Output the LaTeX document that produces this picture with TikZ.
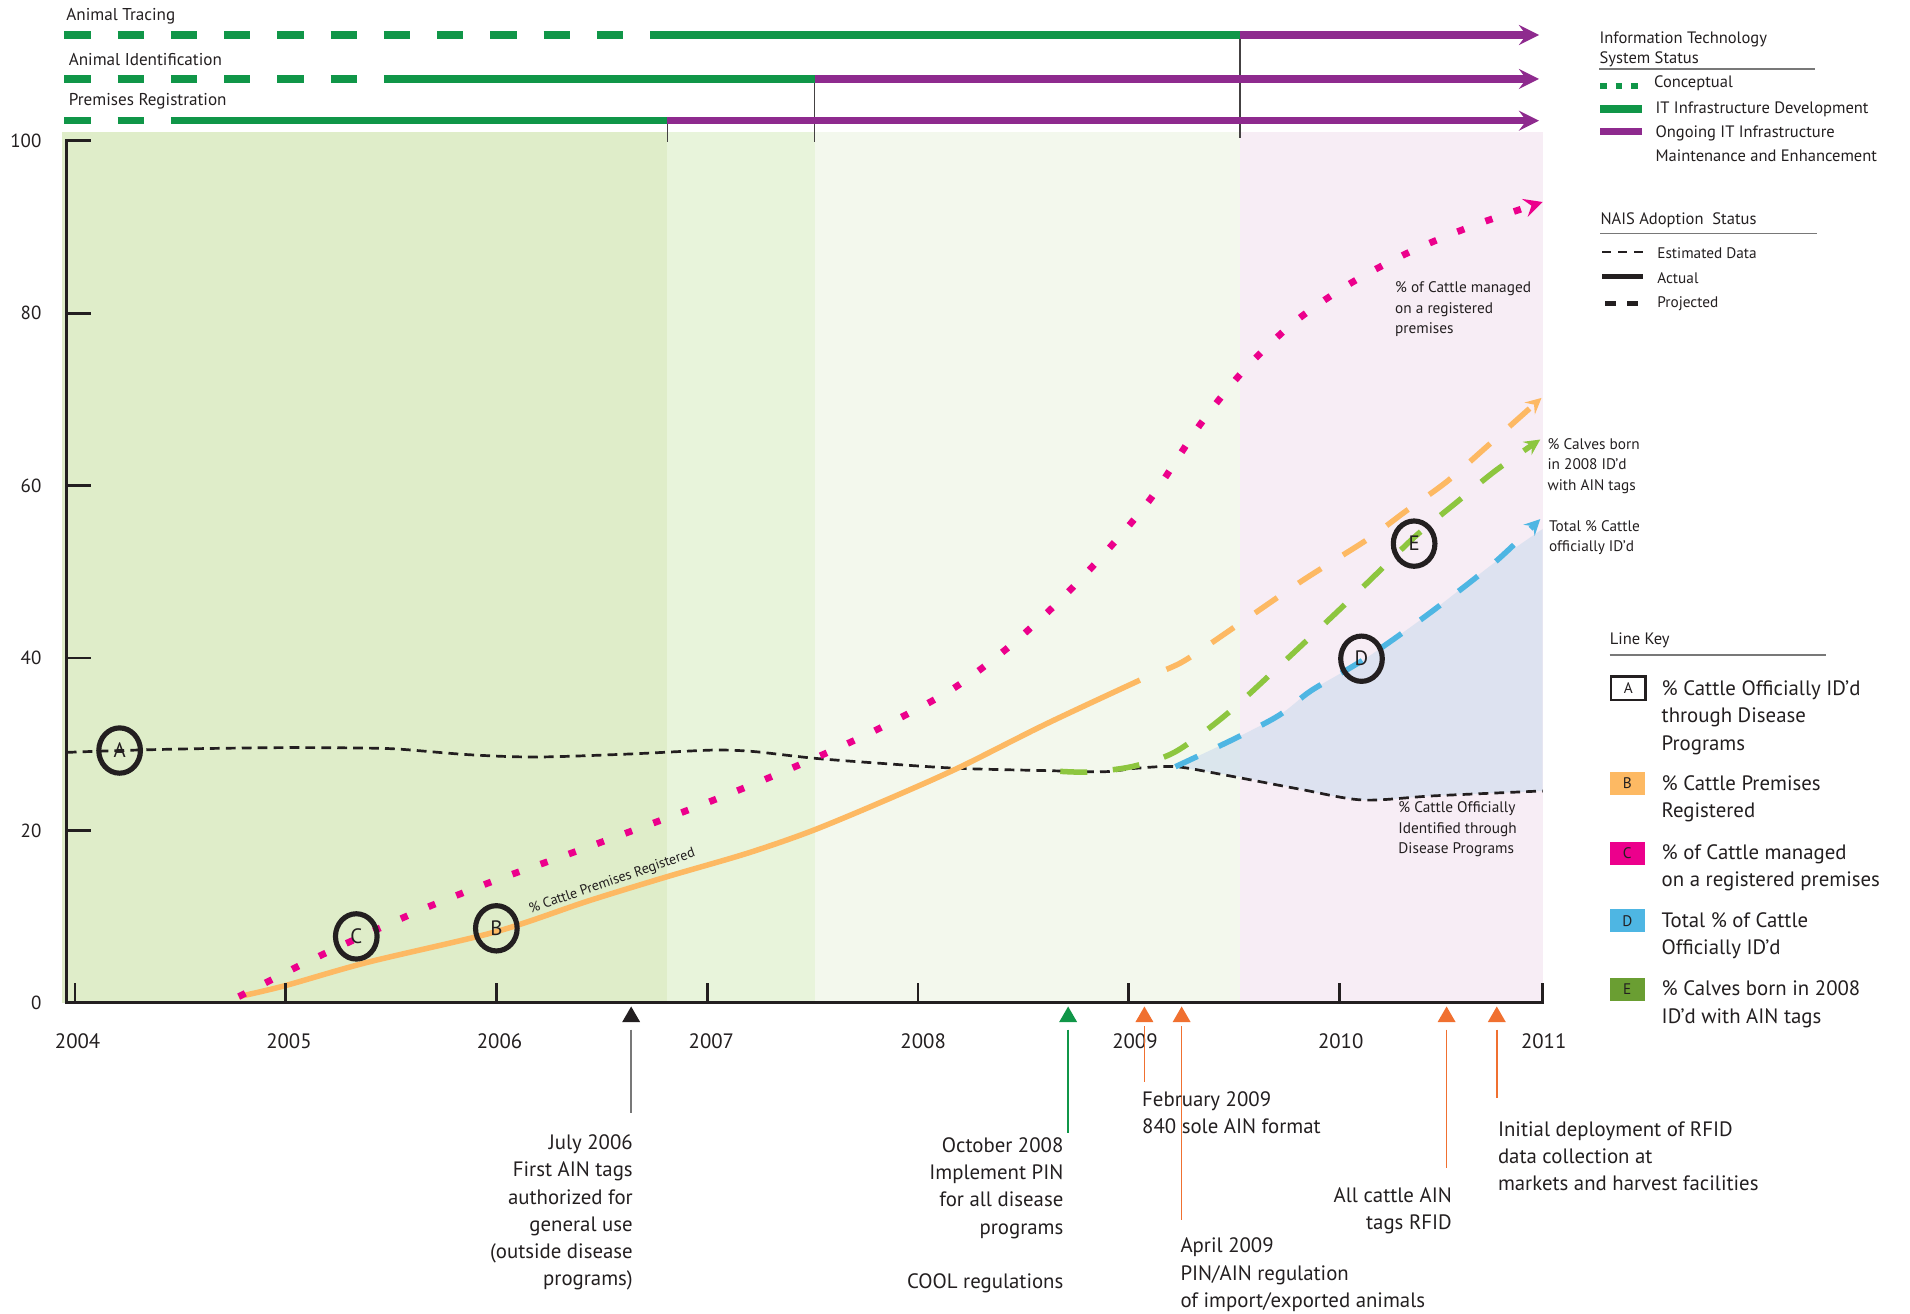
\documentclass[tikz,border=0pt]{standalone}
\usepackage{fontspec}
\setmainfont{PT Sans}
\usetikzlibrary{calc,positioning,arrows,shapes.geometric}

\definecolor{itgreen}{RGB}{16,150,72}
\definecolor{itpurple}{RGB}{142,42,142}
\definecolor{bgone}{RGB}{223,237,201}
\definecolor{bgtwo}{RGB}{232,244,219}
\definecolor{bgthree}{RGB}{243,248,237}
\definecolor{bgfour}{RGB}{247,237,245}
\definecolor{premorange}{RGB}{253,185,99}
\definecolor{mgdpink}{RGB}{236,0,140}
\definecolor{calfgreen}{RGB}{141,198,63}
\definecolor{totblue}{RGB}{78,182,227}
\definecolor{totfill}{RGB}{204,219,237}
\definecolor{keygreen}{RGB}{106,158,50}
\definecolor{evorange}{RGB}{240,112,48}
\definecolor{inkgray}{RGB}{35,31,32}
\definecolor{rulegray}{RGB}{120,120,120}

\newcommand{\fsize}[2]{\fontsize{#1}{#2}\selectfont}

\tikzstyle{axisline}   = [line width=2.3pt, inkgray]
\tikzstyle{barconcept} = [line width=6pt, itgreen, dash pattern=on 21.5pt off 22pt]
\tikzstyle{bardevel}   = [line width=6pt, itgreen]
\tikzstyle{barmaint}   = [line width=6pt, itpurple, ->, >=stealth]
\tikzstyle{phaseline}  = [line width=1.1pt, inkgray!85]
\tikzstyle{estline}    = [line width=2.2pt, inkgray, dash pattern=on 8pt off 5pt]
\tikzstyle{premline}   = [line width=4.5pt, premorange]
\tikzstyle{projline}   = [line width=4.5pt, dash pattern=on 22pt off 21pt, ->, >=stealth]
\tikzstyle{mgdline}    = [line width=5.5pt, mgdpink, dash pattern=on 6pt off 18.5pt, ->, >=stealth]
\tikzstyle{lbl}        = [ellipse, draw=inkgray, line width=4.2pt, minimum width=34pt, minimum height=37pt, inner sep=0pt, text=inkgray, font=\fsize{17}{17}]
\tikzstyle{evmark}     = [regular polygon, regular polygon sides=3, minimum size=17pt, inner sep=0pt, anchor=south]
\tikzstyle{evline}     = [line width=1.2pt]
\tikzstyle{evtext}     = [inner sep=0pt, text=inkgray, font=\fsize{17}{22.3}]
\tikzstyle{chartnote}  = [inner sep=0pt, align=left, anchor=north west, text=inkgray, font=\fsize{12.5}{16.7}]
\tikzstyle{keybox}     = [minimum width=28.5pt, minimum height=19pt, inner sep=0pt, text=inkgray, font=\fsize{12.5}{12.5}]
\tikzstyle{keytext}    = [inner sep=0pt, align=left, anchor=north west, text=inkgray, font=\fsize{17}{22.6}]
\tikzstyle{legtext}    = [inner sep=0pt, anchor=west, text=inkgray, font=\fsize{12.5}{16}]
\tikzstyle{legrule}    = [line width=1.3pt, rulegray]

\begin{document}
\begin{tikzpicture}[x=1pt, y=-1pt]
		\useasboundingbox (0,0) rectangle (1560,1073.2);

		\fill[bgone]   (51,107.5) rectangle (545,819);
		\fill[bgtwo]   (545,107.5) rectangle (665.5,819);
		\fill[bgthree] (665.5,107.5) rectangle (1013,819);
		\fill[bgfour]  (1013,107.5) rectangle (1260,819);

		\node[inner sep=0pt, anchor=west, text=inkgray, font=\fsize{14}{14}] (tracing) at (54,13) {Animal Tracing};
		\node[inner sep=0pt, anchor=west, text=inkgray, font=\fsize{14}{14}] (ident) at (56,49) {Animal Identification};
		\node[inner sep=0pt, anchor=west, text=inkgray, font=\fsize{14}{14}] (premreg) at (56,83) {Premises Registration};

		\coordinate (trA) at (52.5,28.6);
		\coordinate (trB) at (545,28.6);
		\coordinate (trC) at (1012.7,28.6);
		\coordinate (trD) at (1257,28.6);
		\coordinate (idA) at (52.5,64.5);
		\coordinate (idB) at (335,64.5);
		\coordinate (idC) at (665.5,64.5);
		\coordinate (idD) at (1257,64.5);
		\coordinate (prA) at (52.5,98.6);
		\coordinate (prB) at (140,98.6);
		\coordinate (prC) at (545,98.6);
		\coordinate (prD) at (1257,98.6);

		\draw[phaseline] (trC) -- (1012.7,113);
		\draw[phaseline] (idC) -- (665.5,115.7);
		\draw[phaseline] (prC) -- (545,115.7);

		\draw[barconcept] (trA) -- (trB);
		\draw[bardevel] (trB) -- (trC);
		\draw[barmaint] (trC) -- (trD);
		\draw[barconcept] (idA) -- (idB);
		\draw[bardevel] (idB) -- (idC);
		\draw[barmaint] (idC) -- (idD);
		\draw[barconcept] (prA) -- (prB);
		\draw[bardevel] (prB) -- (prC);
		\draw[barmaint] (prC) -- (prD);

		\fill[totfill, opacity=0.6] plot[smooth] coordinates {(960,626.2) (1009,603) (1045,584) (1071,564) (1115,538) (1166,502) (1220,460) (1260,432)}
			-- plot[smooth] coordinates {(1260,646) (1171,650) (1113,653.4) (1062,644.6) (1012,634.4) (960,626.2)} -- cycle;

		\draw[estline] plot[smooth] coordinates {(54.5,614.5) (97.7,613) (160,611.5) (233,610.6) (300,611) (328,612) (383,616.4) (437.5,618.3) (510,616) (571.7,613) (592,612.6) (617.6,614) (665,619.3) (720,623.5) (781.7,627.5) (854.6,629.4) (902,630.3) (927.6,627.5) (960.4,626.2) (1000.5,633) (1061.9,644.6) (1113,653.4) (1171,650) (1260,646)};

		\draw[premline] plot[smooth] coordinates {(195,814) (233,805) (300,786) (405,761) (480,736) (545,716) (610,697) (662,679) (720,655) (782,627.5) (855,591) (931,555.5)};
		\draw[projline, premorange, dash phase=22pt] plot[smooth] coordinates {(933,554) (965,541) (1010,511) (1064,474) (1117,440.5) (1147.5,418) (1181.6,393.4) (1214.3,364.8) (1259,325)};

		\draw[projline, calfgreen] plot[smooth] coordinates {(866,630) (890,630.5) (925,626) (960,614) (1001,584) (1046,543) (1095,497) (1125,468) (1156,438) (1190,410) (1222,384) (1258,359)};

		\draw[projline, totblue, dash pattern=on 20pt off 19pt] plot[smooth] coordinates {(960,626.2) (1009,603) (1045,584) (1071,564) (1115,538) (1166,502) (1220,460) (1258,424)};

		\draw[mgdline] plot[smooth] coordinates {(195,814) (246,788) (297,764) (349,741) (402,720) (455,701) (507,682) (561,662) (614,641) (666,619) (716,596) (776,564) (822,530) (864,492) (903,451) (940,407) (980,347) (1015,303.5) (1056,264) (1102,232) (1152,205.5) (1204,184) (1260,165)};

		\node[rotate=19, inner sep=0pt, text=inkgray, font=\fsize{11.5}{11.5}] (premlabel) at (500,720) {\% Cattle Premises Registered};
		\node[chartnote] (mgdlabel) at (1139.3,230.1) {\% of Cattle managed\\on a registered\\premises};
		\node[chartnote] (calflabel) at (1263.8,358) {\% Calves born\\in 2008 ID’d\\with AIN tags};
		\node[chartnote] (totlabel) at (1265,424.7) {Total \% Cattle\\officially ID’d};
		\node[chartnote] (estlabel) at (1142,654.6) {\% Cattle Officially\\Identified through\\Disease Programs};

		\node[lbl] (circA) at (97.7,613) {A};
		\node[lbl] (circB) at (405.4,758.2) {B};
		\node[lbl] (circC) at (291,764.8) {C};
		\node[lbl] (circD) at (1112,538) {D};
		\node[lbl] (circE) at (1155,444) {E};

		\draw[axisline, line join=miter] (74,115) -- (54.5,115) -- (54.5,819) -- (1260,819);
		\foreach \p in {20,40,60,80}
			\draw[axisline] (54.5,{819-7.04*\p}) -- (74,{819-7.04*\p});
		\foreach \x in {61.3,233.4,405.5,577.6,749.7,921.8,1093.9,1260}
			\draw[axisline] (\x,820) -- (\x,803);

		\foreach \p/\t in {0/0,20/20,40/40,60/60,80/80,100/100}
			\node[inner sep=0pt, anchor=east, text=inkgray, font=\fsize{15.5}{15.5}] (ylab\p) at (34,{819-7.04*\p}) {\t};
		\foreach \x/\t in {63.4/2004,236/2005,408/2006,581/2007,754/2008,927/2009,1095/2010,1260.8/2011}
			\node[inner sep=0pt, text=inkgray, font=\fsize{17}{17}] (yr\t) at (\x,850.7) {\t};

		\node[evmark, fill=inkgray] (evJul) at (515.5,835) {};
		\node[evmark, fill=itgreen] (evOct) at (872.4,835) {};
		\node[evmark, fill=evorange] (evFeb) at (934.7,835) {};
		\node[evmark, fill=evorange] (evApr) at (965.1,835) {};
		\node[evmark, fill=evorange] (evAll) at (1181.5,835) {};
		\node[evmark, fill=evorange] (evIni) at (1222.5,835) {};

		\coordinate (evJulEnd) at (515.5,909);
		\coordinate (evOctEnd) at (872.4,925.6);
		\coordinate (evFebEnd) at (934.7,883.4);
		\coordinate (evAprEnd) at (965.1,996.4);
		\coordinate (evAllEnd) at (1181.5,954);
		\coordinate (evIniEnd) at (1222.5,897);

		\draw[evline, rulegray] ([yshift=-6pt]evJul.south) -- (evJulEnd);
		\draw[evline, itgreen] ([yshift=-6pt]evOct.south) -- (evOctEnd);
		\draw[evline, evorange] ([yshift=-3pt]evFeb.south) -- (evFebEnd);
		\draw[evline, evorange] ([yshift=-3pt]evApr.south) -- (evAprEnd);
		\draw[evline, evorange] ([yshift=-6pt]evAll.south) -- (evAllEnd);
		\draw[evline, evorange] ([yshift=-6pt]evIni.south) -- (evIniEnd);

		\node[evtext, align=right, anchor=north east] (txJul) at (517,926.5) {July 2006\\First AIN tags\\authorized for\\general use\\(outside disease\\programs)};
		\node[evtext, align=right, anchor=north east] (txOct) at (868.7,928.7) {October 2008\\Implement PIN\\for all disease\\programs\\[22.3pt]COOL regulations};
		\node[evtext, align=left, anchor=north west] (txFeb) at (932.7,891.1) {February 2009\\840 sole AIN format};
		\node[evtext, align=left, anchor=north west] (txApr) at (964,1010.9) {April 2009\\PIN/AIN regulation\\of import/exported animals};
		\node[evtext, align=right, anchor=north east] (txAll) at (1186,969.5) {All cattle AIN\\tags RFID};
		\node[evtext, align=left, anchor=north west] (txIni) at (1223.3,915.6) {Initial deployment of RFID\\data collection at\\markets and harvest facilities};

		\node[inner sep=0pt, align=left, anchor=north west, text=inkgray, font=\fsize{13.5}{16.3}] (ithead) at (1306.3,25.5) {Information Technology\\System Status};
		\draw[legrule] (1306,56.4) -- (1482,56.4);
		\draw[line width=5pt, itgreen, dash pattern=on 5.5pt off 7pt] (1307,70) -- (1341,70);
		\node[legtext, font=\fsize{13.5}{16}] (itconc) at (1350.8,68) {Conceptual};
		\draw[bardevel] (1307,89) -- (1341,89);
		\node[legtext, font=\fsize{13.5}{16}] (itdev) at (1352,89) {IT Infrastructure Development};
		\draw[line width=6pt, itpurple] (1307,107.5) -- (1341,107.5);
		\node[inner sep=0pt, align=left, anchor=north west, text=inkgray, font=\fsize{13.5}{19.7}] (itmaint) at (1352,102.5) {Ongoing IT Infrastructure\\Maintenance and Enhancement};

		\node[legtext, font=\fsize{13.5}{16}] (naishead) at (1307,179.7) {NAIS Adoption\ \ Status};
		\draw[legrule] (1307,190.6) -- (1484,190.6);
		\draw[line width=1.8pt, inkgray, dash pattern=on 7.4pt off 5.7pt] (1308.5,206) -- (1342,206);
		\node[legtext] (naisest) at (1353.4,207) {Estimated Data};
		\draw[line width=4pt, inkgray] (1308.5,226) -- (1342,226);
		\node[legtext] (naisact) at (1353.4,227.3) {Actual};
		\draw[line width=4pt, inkgray, dash pattern=on 9pt off 9pt] (1311,247.7) -- (1338,247.7);
		\node[legtext] (naisproj) at (1353.4,247.7) {Projected};

		\node[legtext, font=\fsize{13.5}{16}] (keyhead) at (1314.6,522.7) {Line Key};
		\draw[legrule] (1314.6,535) -- (1491,535);
		\node[keybox, draw=inkgray, line width=2pt, fill=white, anchor=west] (keyA) at (1314.6,562) {A};
		\node[keybox, fill=premorange, anchor=west] (keyB) at (1314.6,640) {B};
		\node[keybox, fill=mgdpink, anchor=west] (keyC) at (1314.6,697) {C};
		\node[keybox, fill=totblue, anchor=west] (keyD) at (1314.6,752) {D};
		\node[keybox, fill=keygreen, anchor=west] (keyE) at (1314.6,808) {E};
		\node[keytext] (keyAtx) at (1357,555.5) {\% Cattle Officially ID’d\\through Disease\\Programs};
		\node[keytext] (keyBtx) at (1357,633) {\% Cattle Premises\\Registered};
		\node[keytext] (keyCtx) at (1357,689.3) {\% of Cattle managed\\on a registered premises};
		\node[keytext] (keyDtx) at (1357,745) {Total \% of Cattle\\Officially ID’d};
		\node[keytext] (keyEtx) at (1357,800.8) {\% Calves born in 2008\\ID’d with AIN tags};
	\end{tikzpicture}
\end{document}
